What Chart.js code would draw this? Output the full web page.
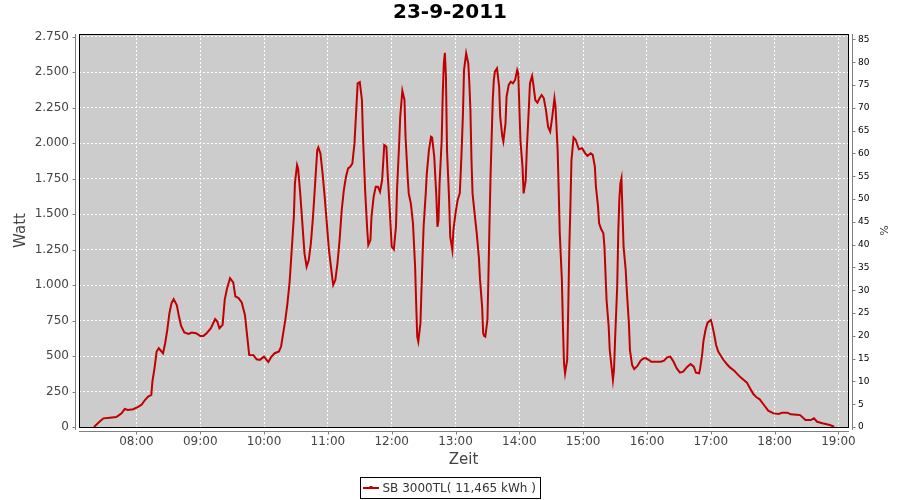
<!DOCTYPE html>
<html><head><meta charset="utf-8">
<script src="https://cdn.jsdelivr.net/npm/chart.js@4.4.1/dist/chart.umd.min.js"></script>
<style>html,body{margin:0;padding:0;background:#fff;}#wrap{width:900px;height:500px;}</style>
</head><body><div id="wrap"><canvas id="c" width="900" height="500"></canvas></div>
<script>
const chartTitle = '23-9-2011';
const seriesLabel = 'SB 3000TL( 11,465 kWh )';
const xTitle = 'Zeit', yTitle = 'Watt', y2Title = '%';

// minutes since midnight, grouped by hour
const minutes = [
  440,446,449,455,461,463,466,469,472,477,
  482,485,488,491,494,495,497,499,501,505,507,509,511,513,515,518,520,522,525,529,532,536,
  540,543,546,550,554,556,558,561,563,565,568,571,573,576,579,582,584,586,590,593,596,
  600,602,604,607,610,614,616,618,620,622,624,626,628,629,631,632,634,636,638,640,642,644,646,648,650,651,653,655,657,659,
  661,664,665,667,669,671,673,675,677,679,681,683,685,687,688,690,692,693,695,697,698,700,701,703,705,707,709,711,713,715,716,718,
  720,722,724,725,727,728,730,732,733,735,736,738,740,742,743,744,745,747,748,749,750,752,753,755,757,758,760,762,763,764,765,767,768,769,770,771,772,774,775,777,778,
  780,782,784,785,786,787,788,790,792,793,794,795,796,798,800,802,803,805,806,807,808,810,811,812,813,814,815,816,817,819,821,822,824,825,827,828,830,832,834,836,838,839,
  840,841,843,844,846,847,849,850,852,853,855,857,859,861,863,865,867,869,871,873,874,876,877,878,880,881,882,883,885,886,887,888,889,891,893,894,896,899,
  902,904,907,909,911,912,914,915,917,919,920,921,922,924,925,927,928,929,930,932,933,934,935,936,937,938,940,941,943,944,946,948,951,954,957,959,
  962,964,968,973,976,979,982,985,988,991,994,998,1001,1004,1006,1009,1010,1012,1013,1015,1017,
  1020,1021,1023,1025,1027,1029,1032,1035,1038,1042,1045,1048,1051,1054,1057,1060,1063,1066,1070,1074,1079,
  1084,1087,1092,1095,1101,1104,1109,1114,1117,1120,1125,1129,1132,1136
];
const watts = [
  0,42,61,66,70,80,96,127,120,125,
  143,158,190,214,226,320,414,532,555,520,590,684,802,873,901,858,778,712,666,656,666,661,
  642,642,661,696,760,743,696,720,896,971,1049,1019,920,908,877,790,649,508,506,477,473,
  496,477,458,496,520,532,567,661,755,873,1020,1247,1481,1716,1846,1822,1646,1435,1223,1129,1176,1294,1481,1716,1951,1970,1928,1787,1622,1435,
  1247,1059,1000,1035,1153,1317,1528,1669,1763,1822,1834,1857,1998,2280,2421,2430,2304,2045,1669,1388,1282,1317,1481,1622,1693,1693,1658,1740,1987,1975,1810,1552,
  1270,1251,1411,1669,1998,2186,2369,2304,2045,1763,1646,1575,1435,1129,871,636,601,730,965,1200,1411,1646,1787,1951,2045,2040,1904,1622,1411,1458,1716,2022,2351,2562,2637,2468,1951,1599,1341,1247,1388,
  1505,1599,1646,1810,1998,2210,2515,2633,2562,2421,2233,1881,1646,1500,1360,1190,1040,848,660,640,636,754,1083,1459,1787,2046,2304,2445,2504,2527,2398,2187,2046,2011,2140,2328,2410,2433,2422,2445,2516,2492,
  2257,2022,1834,1646,1740,1952,2257,2422,2473,2422,2304,2285,2316,2339,2316,2234,2116,2081,2187,2316,2257,1952,1670,1365,1036,707,448,378,472,848,1271,1550,1880,2040,2022,1999,1957,1964,
  1928,1910,1928,1917,1834,1693,1553,1435,1393,1365,1271,1083,895,707,542,402,331,402,613,989,1365,1600,1717,1752,1506,1271,1106,965,730,542,437,408,430,467,484,484,
  472,460,460,460,467,491,496,460,413,383,390,425,444,425,383,378,413,519,601,683,735,
  754,730,660,578,531,507,472,444,420,397,373,350,331,312,272,232,209,195,155,115,96,
  92,101,101,89,87,84,49,49,61,37,26,19,14,2
];

const hourTicks = ['08:00','09:00','10:00','11:00','12:00','13:00','14:00','15:00','16:00','17:00','18:00','19:00'];
const wattTicks = [0,250,500,750,1000,1250,1500,1750,2000,2250,2500,2750];
const percentTicks = [0,5,10,15,20,25,30,35,40,45,50,55,60,65,70,75,80,85];

const toMin = s => { const p = s.split(':'); return (+p[0]) * 60 + (+p[1]); };
const fmtTime = v => { const h = Math.floor(v / 60), m = Math.round(v - h * 60); return String(h).padStart(2, '0') + ':' + String(m).padStart(2, '0'); };
const fmtWatt = v => { const s = String(Math.round(v)); return s.length > 3 ? s.slice(0, -3) + '.' + s.slice(-3) : s; };

const X_MIN = toMin('07:06'), X_MAX = toMin('19:09');
const Y_MAX = 2769, Y2_MAX = 86.2;
const LINE = '#c00000';
const FONT = 'DejaVu Sans';

const decor = {
  id: 'decor',
  beforeDraw(chart) {
    const { ctx, chartArea: a } = chart;
    ctx.save();
    ctx.fillStyle = '#cccccc';
    ctx.fillRect(a.left, a.top, a.right - a.left, a.bottom - a.top);
    ctx.restore();
  },
  afterDraw(chart) {
    const { ctx, chartArea: a, scales } = chart;
    ctx.save();
    ctx.strokeStyle = '#000'; ctx.lineWidth = 1;
    ctx.strokeRect(a.left + 0.5, a.top + 0.5, a.right - a.left, a.bottom - a.top);
    ctx.strokeStyle = '#808080';
    ctx.beginPath();
    const lx = a.left - 3.5, rx = a.right + 4.5, by = a.bottom + 4.5;
    ctx.moveTo(lx, a.top); ctx.lineTo(lx, a.bottom + 3);
    ctx.moveTo(rx, a.top); ctx.lineTo(rx, a.bottom + 3);
    ctx.moveTo(a.left, by); ctx.lineTo(a.right + 1, by);
    scales.y.ticks.forEach(t => { const p = Math.round(scales.y.getPixelForValue(t.value)) + 0.5; ctx.moveTo(lx - 3, p); ctx.lineTo(lx, p); });
    scales.y2.ticks.forEach(t => { const p = Math.round(scales.y2.getPixelForValue(t.value)) + 0.5; ctx.moveTo(rx, p); ctx.lineTo(rx + 3, p); });
    scales.x.ticks.forEach(t => { const p = Math.round(scales.x.getPixelForValue(t.value)) + 0.5; ctx.moveTo(p, by); ctx.lineTo(p, by + 3); });
    ctx.stroke();
    const ds = chart.data.datasets[0];
    ctx.font = '12px "' + FONT + '"';
    const tw = ctx.measureText(ds.label).width;
    const bw = Math.round(tw + 27), bx = Math.round(450 - bw / 2) + 0.5, byy = 477.5, bh = 21;
    ctx.strokeStyle = '#000'; ctx.lineWidth = 1;
    ctx.strokeRect(bx, byy, bw, bh);
    ctx.strokeStyle = ds.borderColor; ctx.lineWidth = 2;
    ctx.beginPath(); ctx.moveTo(bx + 2.5, 488); ctx.lineTo(bx + 18.5, 488); ctx.stroke();
    ctx.fillStyle = ds.borderColor; ctx.fillRect(bx + 9, 486, 3, 2);
    ctx.fillStyle = '#333'; ctx.textBaseline = 'middle'; ctx.textAlign = 'left';
    ctx.fillText(ds.label, bx + 22, 488.5);
    ctx.restore();
  }
};

new Chart(document.getElementById('c'), {
  type: 'line',
  data: {
    datasets: [{
      label: seriesLabel,
      data: minutes.map((m, i) => ({ x: m, y: watts[i] })),
      borderColor: LINE, backgroundColor: LINE,
      borderWidth: 2, pointRadius: 0, tension: 0, fill: false,
      yAxisID: 'y', xAxisID: 'x'
    }]
  },
  options: {
    responsive: false, animation: false,
    layout: { padding: { left: 0, right: 0, top: 0, bottom: 28 } },
    font: { family: FONT },
    plugins: {
      legend: { display: false },
      tooltip: { enabled: false },
      title: {
        display: true, text: chartTitle, color: '#000',
        font: { family: FONT, size: 20, weight: 'bold' },
        padding: { top: 1, bottom: 9 }
      }
    },
    scales: {
      x: {
        type: 'linear', position: 'bottom', min: X_MIN, max: X_MAX,
        afterBuildTicks: s => { s.ticks = hourTicks.map(h => ({ value: toMin(h) })); },
        afterFit: s => { s.height = 45; },
        ticks: { autoSkip: false, maxRotation: 0, padding: 8, color: '#444', font: { family: FONT, size: 12 }, callback: v => fmtTime(v) },
        grid: { color: '#ffffff', lineWidth: 1, drawTicks: false },
        border: { display: false, dash: [2, 2] },
        title: { display: true, text: xTitle, color: '#444', font: { family: FONT, size: 15 }, padding: { top: 0, bottom: 3 } }
      },
      y: {
        type: 'linear', position: 'left', min: 0, max: Y_MAX,
        afterBuildTicks: s => { s.ticks = wattTicks.map(v => ({ value: v })); },
        afterFit: s => { s.width = 79; },
        ticks: { padding: 10, color: '#444', font: { family: FONT, size: 12 }, callback: v => fmtWatt(v) },
        grid: { color: '#ffffff', lineWidth: 1, drawTicks: false },
        border: { display: false, dash: [2, 2] },
        title: { display: true, text: yTitle, color: '#444', font: { family: FONT, size: 15 }, padding: { top: 12, bottom: 0 } }
      },
      y2: {
        type: 'linear', axis: 'y', position: 'right', min: 0, max: Y2_MAX,
        afterBuildTicks: s => { s.ticks = percentTicks.map(v => ({ value: v })); },
        afterFit: s => { s.width = 52; },
        ticks: { padding: 10, color: '#000', font: { family: FONT, size: 9 }, callback: v => String(v) },
        grid: { display: false, drawTicks: false },
        border: { display: false },
        title: { display: true, text: y2Title, color: '#444', font: { family: FONT, size: 11 }, padding: { top: 11, bottom: 0 } }
      }
    }
  },
  plugins: [decor]
});
</script>
</body></html>
